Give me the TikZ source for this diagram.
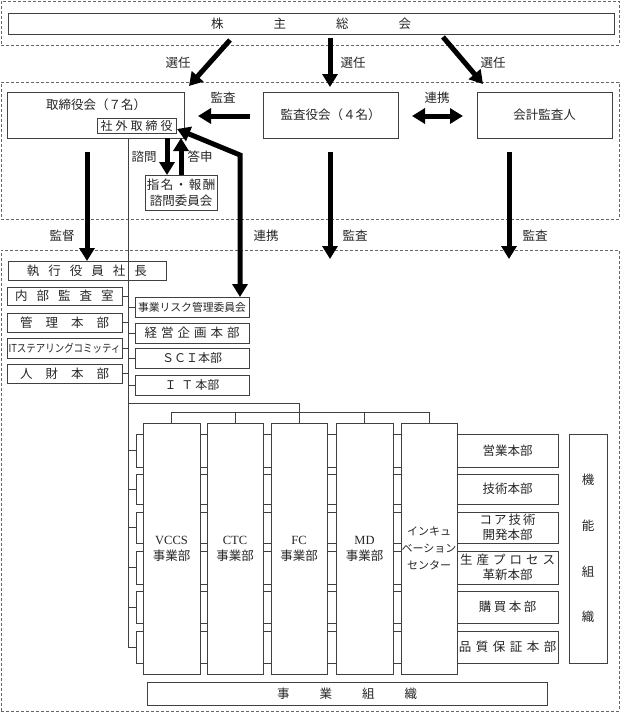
\documentclass[tikz,border=0pt]{standalone}
\usepackage{fontspec}
\setmainfont{Noto Sans CJK JP}
\newfontfamily\latin{Liberation Serif}
\usetikzlibrary{arrows.meta}
\newcommand\Bx[7][]{\node[box,#1,anchor=north west,minimum width={#5-#3},minimum height={#6-#4}] (#2) at (#3,#4) {#7};}
\begin{document}
\begin{tikzpicture}[x=1pt,y=-1pt,
 box/.style={draw=black!75,line width=0.8pt,fill=white,inner sep=0pt,outer sep=0pt,align=center,text=black!85},
 dbox/.style={draw=black!60,fill=none,dash pattern=on 3pt off 2pt,line width=0.7pt},
 lab/.style={inner sep=0pt,text=black!85},
 arr/.style={line width=5pt,-{Triangle[length=13pt,width=15pt]}},
 darr/.style={line width=5pt,{Triangle[length=13pt,width=15pt]}-{Triangle[length=13pt,width=15pt]}},
 tree/.style={draw=black!75,line width=0.8pt},
 font=\fontsize{12.5}{15}\selectfont]
\useasboundingbox (0,0) rectangle (621,713);
% dashed regions
\Bx[dbox]{dtop}{1}{1}{619}{45}{}
\Bx[dbox]{dmid}{1}{82}{619}{219}{}
\Bx[dbox]{dbot}{1}{250}{619}{711}{}
% top
\Bx{sh}{8}{13}{614}{34}{株\hspace{50pt}主\hspace{50pt}総\hspace{50pt}会}
\coordinate (s1a) at (230,40); \coordinate (s1b) at (189,86);
\coordinate (s2a) at (330,38); \coordinate (s2b) at (330,87);
\coordinate (s3a) at (443,37); \coordinate (s3b) at (483,84);
\draw[arr] (s1a) -- (s1b);
\draw[arr] (s2a) -- (s2b);
\draw[arr] (s3a) -- (s3b);
\node[lab] (l1) at (178,63) {選任};
\node[lab] (l2) at (353,63) {選任};
\node[lab] (l3) at (493,63) {選任};
% middle
\Bx{tb}{7}{92}{184}{138}{}
\node[lab] (tbl) at (96,105) {取締役会（７名）};
\Bx[font=\fontsize{12}{14}\selectfont]{sg}{97}{118}{176}{133}{社\hspace{3pt}外\hspace{3pt}取\hspace{3pt}締\hspace{3pt}役}
\Bx{ka}{263}{92}{398}{138}{監査役会（４名）}
\Bx{kk}{477}{92}{612}{138}{会計監査人}
\Bx[font=\fontsize{12.5}{16}\selectfont]{sm}{145}{175}{217}{210}{指\hspace{1.5pt}名\hspace{1.5pt}・\hspace{1.5pt}報\hspace{1.5pt}酬\\諮問委員会}
\coordinate (kaa) at (250,116); \coordinate (kab) at (198,116);
\draw[arr] (kaa) -- (kab);
\node[lab] (l4) at (223,98) {監査};
\coordinate (rka) at (412,116); \coordinate (rkb) at (463,116);
\draw[darr] (rka) -- (rkb);
\node[lab] (l5) at (437,98) {連携};
\coordinate (xs) at (167,0); \coordinate (xt) at (181,0);
\draw[arr] (tb.south -| xs) -- (sm.north -| xs);
\draw[arr] (sm.north -| xt) -- (tb.south -| xt);
\node[lab] (l6) at (144,157) {諮問};
\node[lab] (l7) at (200,157) {答申};
% executive area
\Bx{pres}{8}{261}{166}{280}{執\hspace{9pt}行\hspace{9pt}役\hspace{9pt}員\hspace{9pt}社\hspace{9pt}長}
\Bx{naibu}{7}{287}{122}{305}{内\hspace{9pt}部\hspace{9pt}監\hspace{9pt}査\hspace{9pt}室}
\Bx{kanri}{7}{313}{122}{332}{管\hspace{13pt}理\hspace{13pt}本\hspace{13pt}部}
\Bx[font=\fontsize{11}{13}\selectfont]{its}{7}{338}{122}{358}{\scalebox{0.86}[1]{ITステアリングコミッティ}}
\Bx{jinzai}{7}{364}{122}{383}{人\hspace{13pt}財\hspace{13pt}本\hspace{13pt}部}
\Bx[font=\fontsize{10.8}{13}\selectfont]{risk}{135}{297}{249}{317}{事業リスク管理委員会}
\Bx{keiei}{135}{323}{249}{343}{経\hspace{4pt}営\hspace{4pt}企\hspace{4pt}画\hspace{4pt}本\hspace{4pt}部}
\Bx[font=\fontsize{12}{14}\selectfont]{sci}{135}{348}{249}{368}{ＳＣＩ本部}
\Bx[font=\fontsize{12}{14}\selectfont]{it}{135}{375}{249}{395}{Ｉ\hspace{5pt}Ｔ\hspace{2pt}本部}
% supervisory arrows
\coordinate (kt) at (87,152);
\draw[arr] (kt) -- (pres.north -| kt);
\node[lab] (l8) at (62,236) {監督};
\coordinate (rn1) at (177,129); \coordinate (rn2) at (240,155);
\draw[darr] (rn1) -- (rn2) -- (risk.north -| rn2);
\node[lab] (l9) at (266,236) {連携};
\coordinate (ka1) at (330,152); \coordinate (ka2) at (330,259);
\draw[arr] (ka1) -- (ka2);
\node[lab] (l10) at (355,236) {監査};
\coordinate (kk1) at (509,152); \coordinate (kk2) at (509,259);
\draw[arr] (kk1) -- (kk2);
\node[lab] (l11) at (535,236) {監査};
% function row bands
\Bx{r1}{136}{434}{558}{467}{}
\Bx{r2}{136}{474}{558}{504}{}
\Bx{r3}{136}{512}{558}{543}{}
\Bx{r4}{136}{551}{558}{584}{}
\Bx{r5}{136}{591}{558}{623}{}
\Bx{r6}{136}{631}{558}{663}{}
\node[lab] (f1) at (507.5,450.5) {営業本部};
\node[lab] (f2) at (507.5,489) {技術本部};
\node[lab,align=center,font=\fontsize{12.5}{15}\selectfont] (f3) at (507.5,527.5) {コ\hspace{2pt}ア\hspace{2pt}技\hspace{2pt}術\\開発本部};
\node[lab,align=center,font=\fontsize{12.5}{15}\selectfont] (f4) at (507.5,567.5) {生\hspace{4pt}産\hspace{4pt}プ\hspace{4pt}ロ\hspace{4pt}セ\hspace{4pt}ス\\革新本部};
\node[lab] (f5) at (507.5,607) {購\hspace{2.5pt}買\hspace{2.5pt}本\hspace{2.5pt}部};
\node[lab] (f6) at (507.5,647) {品\hspace{4.5pt}質\hspace{4.5pt}保\hspace{4.5pt}証\hspace{4.5pt}本\hspace{4.5pt}部};
% business columns
\Bx[font=\fontsize{12.5}{16}\selectfont]{c1}{143}{423}{200}{674}{{\latin VCCS}\\事業部}
\Bx[font=\fontsize{12.5}{16}\selectfont]{c2}{207}{423}{263}{674}{{\latin CTC}\\事業部}
\Bx[font=\fontsize{12.5}{16}\selectfont]{c3}{271}{423}{327}{674}{{\latin FC}\\事業部}
\Bx[font=\fontsize{12.5}{16}\selectfont]{c4}{336}{423}{393}{674}{{\latin MD}\\事業部}
\Bx[font=\fontsize{11}{17}\selectfont]{c5}{401}{423}{457}{674}{インキュ\\ベーション\\センター}
\Bx[font=\fontsize{12.5}{45.7}\selectfont]{kino}{569}{434}{607}{663}{機\\能\\組\\織}
\Bx{jigyo}{147}{682}{547}{705}{事\hspace{30pt}業\hspace{30pt}組\hspace{30pt}織}
% trunk and ticks
\coordinate (te) at (128,648);
\draw[tree] (tb.south -| te) -- (te);
\foreach \n in {naibu,kanri,its,jinzai} \draw[tree] (\n.east) -- (\n.east -| te);
\foreach \n in {risk,keiei,sci,it} \draw[tree] (\n.west) -- (\n.west -| te);
\foreach \n in {r1,r2,r3,r4,r5,r6} \draw[tree] (\n.west) -- (\n.west -| te);
\coordinate (tj) at (299,403); \coordinate (bar) at (299,412);
\draw[tree] (tj -| te) -- (tj) -- (bar);
\draw[tree] (c1.north |- bar) -- (c5.north |- bar);
\foreach \n in {c1,c2,c3,c4,c5} \draw[tree] (\n.north |- bar) -- (\n.north);
\end{tikzpicture}
\end{document}
